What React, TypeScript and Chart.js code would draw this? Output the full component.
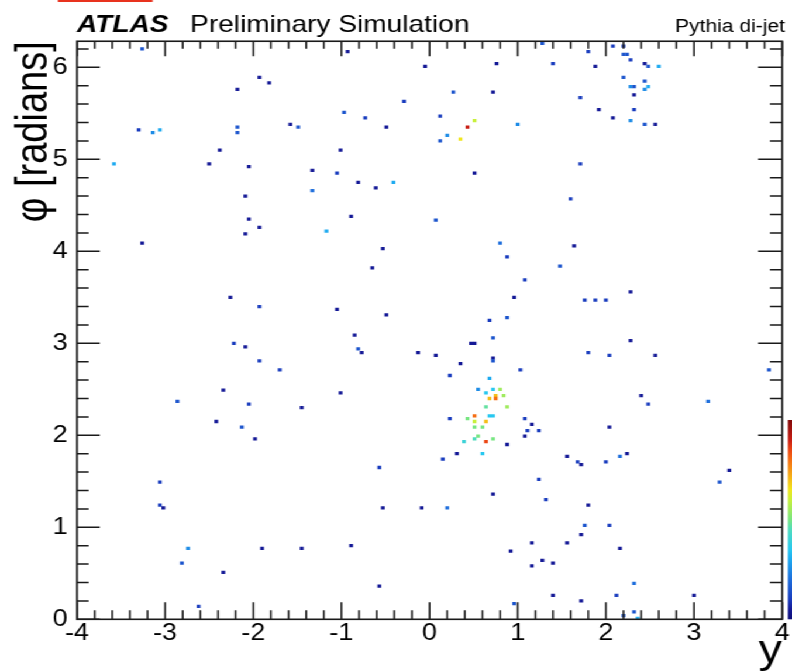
import React, { useEffect, useRef } from "react";
import { Chart, registerables } from "chart.js";

Chart.register(...registerables);

// Rapidity y of every filled cell
const rapidity: number[] = [
  -3.26, -1.93, -1.82, -2.18, -1.58, -1.49, -3.3, -3.14, -3.06, -2.18,
  -2.18, -2.38, -3.58, -2.5, -2.05, -2.09, -2.05, -1.93, -0.93, -0.05,
  0.76, 1.28, 0.27, 0.72, -0.29, -0.97, -0.73, -0.49, 0.12, 0.51,
  0.43, 0.2, 0.12, 0.35, 1.0, -1.01, -1.33, -1.05, -1.33, -0.81,
  -0.61, -0.41, 0.51, -0.89, 0.07, -1.17, 1.8, 2.08, 2.2, 2.2,
  2.24, 2.28, 1.4, 1.88, 2.44, 2.48, 2.6, 2.2, 2.44, 2.28,
  2.32, 2.48, 2.44, 2.32, 1.71, 1.92, 2.32, 2.08, 2.28, 2.44,
  2.56, 1.71, 1.6, -2.09, -3.26, -2.26, -1.93, -2.22, -2.09, -1.93,
  -1.7, -2.34, -2.86, -2.05, -1.45, -0.53, -0.65, 0.8, 0.88, 1.08,
  0.96, -1.05, -0.49, 0.68, 0.88, -0.85, 0.72, -0.81, -0.77, 0.47,
  0.51, -0.13, 0.07, 0.72, 0.72, 0.35, 0.23, 1.03, 0.68, -1.01,
  0.55, 0.64, 0.72, 0.8, 0.75, 0.84, 0.68, 0.75, 0.64, 0.88,
  0.51, 0.68, 0.72, 0.43, 0.23, 1.08, 0.51, 0.64, 1.16, 0.51,
  0.6, 1.11, 1.24, 1.08, 0.55, 0.51, 0.72, 0.39, 0.64, 0.88,
  0.31, 0.6, 0.15, -0.57, 1.24, 0.72, 1.32, -0.53, -0.09, 0.2,
  -1.45, -0.89, 0.92, 1.16, 1.16, 1.28, -0.57, 0.96, -2.42, -2.13,
  -1.98, -3.06, -3.06, -3.02, -2.74, -2.81, -1.9, -2.34, -2.62, 1.64,
  1.48, 2.28, 1.76, 1.88, 2.0, 2.28, 1.8, 2.04, 2.56, 3.85,
  2.4, 2.48, 3.16, 2.04, 1.56, 1.68, 1.72, 2.0, 2.16, 2.24,
  3.4, 3.29, 1.8, 1.76, 2.04, 1.72, 1.56, 2.16, 1.4, 2.32,
  1.4, 1.72, 2.12, 3.0, 2.2, 2.32, 2.36,
];

// Azimuth φ of every filled cell [rad]
const azimuth: number[] = [
  6.2, 5.89, 5.83, 5.76, 5.38, 5.35, 5.32, 5.29, 5.32, 5.35,
  5.29, 5.1, 4.95, 4.95, 4.92, 4.6, 4.35, 4.26, 6.17, 6.01,
  6.04, 6.26, 5.73, 5.73, 5.63, 5.51, 5.45, 5.35, 5.47, 5.42,
  5.35, 5.26, 5.2, 5.22, 5.38, 5.1, 4.88, 4.85, 4.66, 4.75,
  4.69, 4.75, 4.85, 4.38, 4.34, 4.22, 6.17, 6.23, 6.23, 6.14,
  6.14, 6.08, 6.04, 6.01, 6.04, 6.01, 6.01, 5.89, 5.85, 5.79,
  5.79, 5.79, 5.76, 5.7, 5.67, 5.54, 5.54, 5.45, 5.42, 5.38,
  5.38, 4.95, 4.57, 4.19, 4.09, 3.5, 3.4, 3.0, 2.96, 2.81,
  2.71, 2.49, 2.37, 2.34, 2.3, 4.03, 3.82, 4.09, 3.94, 3.69,
  3.5, 3.37, 3.31, 3.25, 3.28, 3.09, 3.06, 2.94, 2.9, 3.0,
  3.0, 2.9, 2.87, 2.84, 2.81, 2.78, 2.65, 2.71, 2.62, 2.46,
  2.5, 2.46, 2.5, 2.5, 2.43, 2.43, 2.4, 2.4, 2.31, 2.31,
  2.21, 2.21, 2.21, 2.18, 2.18, 2.18, 2.15, 2.15, 2.12, 2.09,
  2.09, 2.05, 2.05, 1.99, 1.99, 1.96, 1.96, 1.93, 1.93, 1.9,
  1.8, 1.8, 1.74, 1.65, 1.52, 1.36, 1.3, 1.21, 1.21, 1.21,
  0.77, 0.8, 0.74, 0.83, 0.58, 0.64, 0.36, 0.17, 2.15, 2.09,
  1.96, 1.49, 1.24, 1.21, 0.77, 0.61, 0.77, 0.51, 0.14, 4.06,
  3.84, 3.56, 3.47, 3.47, 3.47, 3.03, 2.9, 2.87, 2.87, 2.71,
  2.43, 2.34, 2.37, 2.09, 1.77, 1.71, 1.68, 1.71, 1.77, 1.8,
  1.62, 1.49, 1.24, 1.02, 1.02, 0.92, 0.83, 0.77, 0.61, 0.39,
  0.26, 0.2, 0.26, 0.26, 0.04, 0.08, 0.01,
];

// Content of every filled cell (arbitrary units), sets its colour
const cellContent: number[] = [
  3, 1, 1, 1, 1, 3, 2, 5, 6, 3,
  3, 1, 6, 1, 1, 1, 1, 1, 1, 1,
  1, 3, 3, 1, 2, 3, 2, 1, 2, 12,
  18, 5, 3, 13, 5, 1, 1, 2, 4, 1,
  1, 6, 1, 1, 3, 6, 2, 2, 2, 3,
  3, 2, 2, 1, 1, 3, 6, 3, 3, 5,
  3, 6, 5, 1, 2, 1, 2, 1, 5, 3,
  1, 2, 2, 1, 1, 1, 2, 2, 1, 2,
  2, 1, 3, 2, 1, 1, 1, 4, 2, 2,
  1, 1, 1, 2, 3, 1, 3, 3, 1, 1,
  1, 1, 1, 1, 3, 1, 2, 2, 6, 1,
  5, 7, 7, 11, 14, 11, 14, 16, 9.5, 11,
  16, 7, 7, 10, 2, 2, 12, 14, 1, 10,
  10, 2, 2, 1, 10, 9, 10, 8, 17, 1,
  1, 7, 2, 2, 2, 1, 2, 1, 1, 4,
  1, 1, 1, 1, 1, 1, 1, 3, 1, 3,
  1, 2, 2, 1, 5, 3, 1, 1, 2, 1,
  3, 1, 2, 2, 2, 1, 2, 2, 1, 3,
  1, 2, 4, 1, 1, 2, 1, 2, 4, 1,
  1, 3, 1, 3, 2, 1, 1, 1, 1, 4,
  1, 1, 2, 1, 3, 3, 6,
];

const CONTENT_MAX = 20;
const PHI_MAX = 2 * Math.PI;

const xTickValues = [-4, -3, -2, -1, 0, 1, 2, 3, 4];
const yTickValues = [0, 1, 2, 3, 4, 5, 6];

const EXPERIMENT = "ATLAS";
const STATUS = "Preliminary Simulation";
const SAMPLE = "Pythia di-jet";
const X_TITLE = "y";
const Y_TITLE = "φ [radians]";

// Drawing is done on a narrower canvas that is stretched sideways
const CANVAS_W = 677;
const CANVAS_H = 672;
const STRETCH = 792 / CANVAS_W;
const FONT = "'Liberation Sans', Arial, Helvetica, sans-serif";

// Rainbow palette, low = dark blue, high = dark red
const paletteStops: [number, number, number, number][] = [
  [0.0, 15, 15, 120],
  [0.05, 20, 25, 150],
  [0.1, 25, 60, 190],
  [0.2, 30, 110, 220],
  [0.3, 30, 170, 240],
  [0.35, 40, 200, 240],
  [0.45, 80, 220, 190],
  [0.5, 120, 230, 130],
  [0.6, 200, 240, 60],
  [0.65, 240, 230, 30],
  [0.7, 245, 190, 25],
  [0.8, 245, 110, 20],
  [0.85, 235, 70, 20],
  [0.9, 200, 30, 20],
  [1.0, 130, 10, 10],
];

function paletteColor(f: number): string {
  const t = Math.max(0, Math.min(1, f));
  for (let i = 1; i < paletteStops.length; i++) {
    const a = paletteStops[i - 1];
    const b = paletteStops[i];
    if (t <= b[0]) {
      const u = (t - a[0]) / (b[0] - a[0] || 1);
      const r = Math.round(a[1] + (b[1] - a[1]) * u);
      const g = Math.round(a[2] + (b[2] - a[2]) * u);
      const bl = Math.round(a[3] + (b[3] - a[3]) * u);
      return `rgb(${r},${g},${bl})`;
    }
  }
  const l = paletteStops[paletteStops.length - 1];
  return `rgb(${l[1]},${l[2]},${l[3]})`;
}

// Frame, inward ticks on all four sides, header texts and the palette strip
const rootFramePlugin = {
  id: "rootFrame",
  afterDatasetsDraw(chart: any) {
    const { ctx, chartArea: a, scales } = chart;
    const xs = scales.x;
    const ys = scales.y;
    ctx.save();
    ctx.strokeStyle = "#1a1a1a";
    ctx.lineWidth = 1.5;
    ctx.beginPath();
    for (let i = 0; i <= 40; i++) {
      const v = (i - 20) / 5;
      const px = xs.getPixelForValue(v);
      const major = i % 5 === 0;
      ctx.moveTo(px, a.bottom);
      ctx.lineTo(px, a.bottom - (major ? 17 : 9));
      ctx.moveTo(px, a.top);
      ctx.lineTo(px, a.top + (major ? 15 : 7.5));
    }
    for (let i = 0; i / 5 <= PHI_MAX; i++) {
      const v = i / 5;
      const py = ys.getPixelForValue(v);
      const major = i % 5 === 0;
      ctx.moveTo(a.left, py);
      ctx.lineTo(a.left + (major ? 19.5 : 10), py);
      ctx.moveTo(a.right, py);
      ctx.lineTo(a.right - (major ? 20.5 : 10.5), py);
    }
    ctx.stroke();
    ctx.lineWidth = 1.6;
    ctx.strokeRect(a.left, a.top, a.right - a.left, a.bottom - a.top);
    ctx.restore();
  },
  afterDraw(chart: any) {
    const { ctx, chartArea: a } = chart;
    ctx.save();
    ctx.fillStyle = "#000";
    ctx.textBaseline = "alphabetic";
    ctx.textAlign = "left";
    ctx.font = `italic bold 24px ${FONT}`;
    ctx.fillText(EXPERIMENT, a.left, 32);
    ctx.font = `24px ${FONT}`;
    ctx.fillText(STATUS, 162.5, 32);
    ctx.textAlign = "right";
    ctx.font = `18px ${FONT}`;
    ctx.fillText(SAMPLE, 671, 32);

    // palette strip
    const top = 420;
    const bottom = a.bottom;
    const x0 = 673.5;
    const grad = ctx.createLinearGradient(0, bottom, 0, top);
    for (let i = 0; i <= 20; i++) grad.addColorStop(i / 20, paletteColor(i / 20));
    ctx.fillStyle = grad;
    ctx.fillRect(x0, top, CANVAS_W - x0, bottom - top);

    // red accent line
    ctx.fillStyle = "#e8321e";
    ctx.fillRect(49.5, 0, 81, 2);
    ctx.restore();
  },
};

export default function App() {
  const canvasRef = useRef<HTMLCanvasElement | null>(null);

  useEffect(() => {
    const prevMargin = document.body.style.margin;
    document.body.style.margin = "0";
    const canvas = canvasRef.current;
    if (!canvas) return;

    const points = rapidity.map((x, i) => ({ x, y: azimuth[i] }));
    const colors = cellContent.map((c) => paletteColor(c / CONTENT_MAX));

    const chart = new Chart(canvas, {
      type: "scatter",
      data: {
        datasets: [
          {
            data: points,
            pointStyle: "rect",
            pointRadius: 2.3,
            pointHoverRadius: 2.3,
            pointBorderWidth: 0,
            borderWidth: 0,
            backgroundColor: colors,
            pointBackgroundColor: colors,
          },
        ],
      },
      options: {
        animation: false,
        responsive: false,
        events: [],
        layout: { padding: { top: 41.25, right: 8.4, left: 0, bottom: 0 } },
        plugins: {
          legend: { display: false },
          tooltip: { enabled: false },
          title: { display: false },
        },
        scales: {
          x: {
            type: "linear",
            position: "bottom",
            min: -4,
            max: 4,
            grid: { display: false, drawTicks: false },
            border: { display: false },
            afterBuildTicks: (s: any) => {
              s.ticks = xTickValues.map((v) => ({ value: v }));
            },
            afterFit: (s: any) => {
              s.height = CANVAS_H - 619.3;
            },
            ticks: {
              color: "#000",
              padding: 1,
              maxRotation: 0,
              autoSkip: false,
              font: { family: FONT, size: 23 },
              callback: (v: any) => String(v),
            },
            title: {
              display: true,
              text: X_TITLE,
              align: "end",
              color: "#000",
              font: { family: FONT, size: 40 },
              padding: { top: 0, bottom: -4 },
            },
          },
          y: {
            type: "linear",
            position: "left",
            min: 0,
            max: PHI_MAX,
            grid: { display: false, drawTicks: false },
            border: { display: false },
            afterBuildTicks: (s: any) => {
              s.ticks = yTickValues.map((v) => ({ value: v }));
            },
            afterFit: (s: any) => {
              s.width = 65.8;
            },
            ticks: {
              color: "#000",
              padding: 8,
              autoSkip: false,
              font: { family: FONT, size: 23 },
              callback: (v: any) => String(v),
            },
            title: {
              display: true,
              text: Y_TITLE,
              align: "end",
              color: "#000",
              font: { family: FONT, size: 38 },
              padding: { top: 7, bottom: 0 },
            },
          },
        },
      },
      plugins: [rootFramePlugin],
    });

    return () => {
      chart.destroy();
      document.body.style.margin = prevMargin;
    };
  }, []);

  return (
    <div
      style={{
        position: "absolute",
        left: 0,
        top: 0,
        width: CANVAS_W,
        height: CANVAS_H,
        transform: `scaleX(${STRETCH})`,
        transformOrigin: "0 0",
        background: "#fff",
      }}
    >
      <canvas ref={canvasRef} width={CANVAS_W} height={CANVAS_H} />
    </div>
  );
}
